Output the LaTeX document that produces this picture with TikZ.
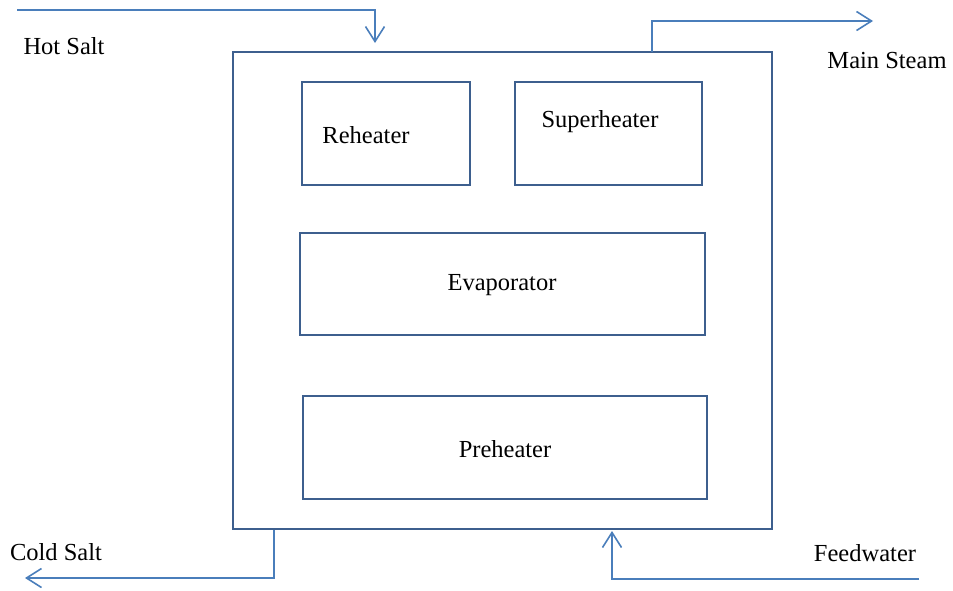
\documentclass[tikz,border=0pt]{standalone}
\usepackage{fontspec}
\setmainfont{Liberation Serif}
\usetikzlibrary{arrows.meta}
\definecolor{boxblue}{HTML}{3D5F8E}
\definecolor{flowblue}{HTML}{4A7EBB}
\begin{document}
\begin{tikzpicture}[x=1pt,y=-1pt,
  unit/.style={draw=boxblue,line width=2.6pt,inner sep=0pt,fill=white},
  flow/.style={draw=flowblue,line width=1.6pt,-{Straight Barb[length=15pt,width=19pt,line width=1.6pt]}},
  lbl/.style={inner sep=0pt,font=\fontsize{24.5}{28}\selectfont}]
\useasboundingbox (0,0) rectangle (953,590);
\node[unit,minimum width=539pt,minimum height=477pt] (hx) at (502.5,290.5) {};
\node[unit,minimum width=168pt,minimum height=103pt] (rh) at (386,133.5) {};
\node[unit,minimum width=187pt,minimum height=103pt] (sh) at (608.5,133.5) {};
\node[unit,minimum width=405pt,minimum height=102pt] (ev) at (502.5,284) {};
\node[unit,minimum width=404pt,minimum height=103pt] (ph) at (505,447.5) {};
\node[lbl] (rht) at (366,135) {Reheater};
\node[lbl] (sht) at (600,122) {Superheater};
\node[lbl] (evt) at (502,285) {Evaporator};
\node[lbl] (pht) at (505,449) {Preheater};
\node[lbl] (hs) at (64,46) {Hot Salt};
\node[lbl] (ms) at (887,61) {Main Steam};
\node[lbl] (cs) at (56,552) {Cold Salt};
\node[lbl] (fw) at (865,553) {Feedwater};
\coordinate (hsin) at (17,10);
\coordinate (hstip) at (375,43);
\coordinate (msout) at (652,52);
\coordinate (mstip) at (873,21);
\coordinate (csout) at (274,530);
\coordinate (cstip) at (25,578);
\coordinate (fwin) at (919,579);
\coordinate (fwtip) at (612,531);
\draw[flow] (hsin) -| (hstip);
\draw[flow] (msout) |- (mstip);
\draw[flow] (csout) |- (cstip);
\draw[flow] (fwin) -| (fwtip);
\end{tikzpicture}
\end{document}
